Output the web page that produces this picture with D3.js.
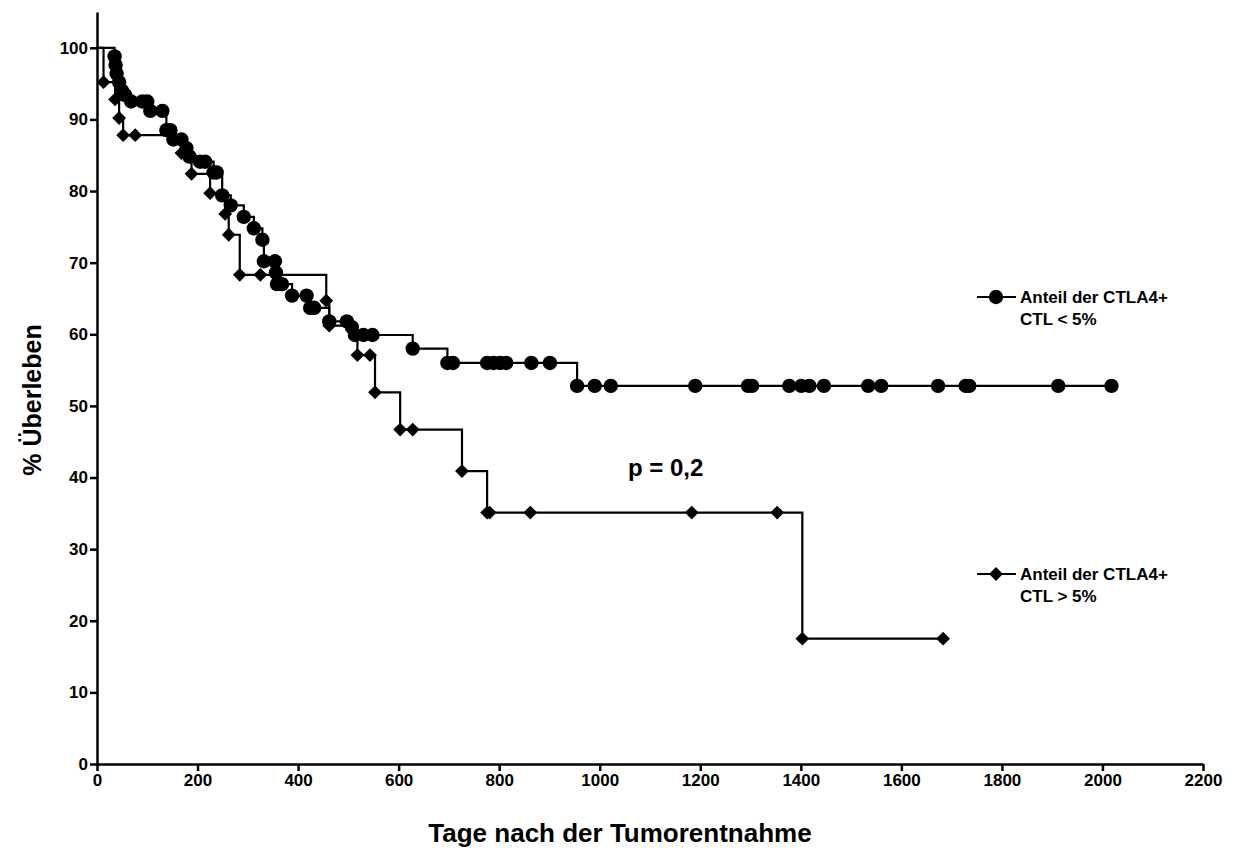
<!DOCTYPE html>
<html>
<head>
<meta charset="utf-8">
<script src="https://cdn.jsdelivr.net/npm/d3@7"></script>
<style>
  body { margin: 0; background: #fff; }
  svg { display: block; font-family: Arial, "Liberation Sans", sans-serif; }
  .tick text { font-weight: bold; font-size: 17px; fill: #000; }
</style>
</head>
<body>
<svg width="1243" height="867"></svg>
<script>
// CTLA4+ CTL < 5% (circles)
const lowDays = [35, 37, 39, 44, 50, 56, 68, 90, 100, 106, 130, 138, 146, 152, 168, 178, 184, 205, 215,
  232, 238, 249, 266, 292, 312, 329, 332, 354, 356, 358, 368, 388, 417, 424, 432, 462, 497, 507, 513,
  530, 548, 628, 697, 708, 776, 789, 802, 814, 864, 901, 955, 990, 1022, 1190, 1295, 1303, 1377,
  1401, 1417, 1446, 1534, 1560, 1673, 1728, 1735, 1912, 2018];
const lowSurv = [98.8, 97.6, 96.4, 95.2, 94.0, 93.4, 92.5, 92.5, 92.5, 91.2, 91.2, 88.5, 88.5, 87.2, 87.2, 86.0, 84.8, 84.1, 84.1,
  82.6, 82.6, 79.4, 78.0, 76.4, 74.8, 73.2, 70.2, 70.2, 68.6, 67.0, 67.0, 65.4, 65.4, 63.7, 63.7, 61.8, 61.8, 61.0, 59.9,
  59.9, 59.9, 58.0, 56.0, 56.0, 56.0, 56.0, 56.0, 56.0, 56.0, 56.0, 52.8, 52.8, 52.8, 52.8, 52.8, 52.8, 52.8,
  52.8, 52.8, 52.8, 52.8, 52.8, 52.8, 52.8, 52.8, 52.8, 52.8];

// CTLA4+ CTL > 5% (diamonds)
const highDays = [13, 36, 44, 52, 76, 168, 188, 225, 255, 262, 284, 325, 456, 462, 518, 543, 553, 603, 628,
  726, 776, 781, 862, 1183, 1353, 1403, 1683];
const highSurv = [95.2, 92.8, 90.2, 87.8, 87.8, 85.3, 82.4, 79.7, 76.8, 73.9, 68.3, 68.3, 64.7, 61.2, 57.1, 57.1, 51.9, 46.7, 46.7,
  40.9, 35.1, 35.1, 35.1, 35.1, 35.1, 17.5, 17.5];

const xTicks = [0, 200, 400, 600, 800, 1000, 1200, 1400, 1600, 1800, 2000, 2200];
const yTicks = [0, 10, 20, 30, 40, 50, 60, 70, 80, 90, 100];

const legendLabels = [["Anteil der CTLA4+", "CTL < 5%"], ["Anteil der CTLA4+", "CTL > 5%"]];

const svg = d3.select("svg");
const margin = {top: 12, right: 40, bottom: 103, left: 97};
const width = 1243 - margin.left - margin.right;
const height = 867 - margin.top - margin.bottom;

const x = d3.scaleLinear().domain([0, 2200]).range([0, width]);
const y = d3.scaleLinear().domain([0, 105]).range([height, 0]);

const g = svg.append("g").attr("transform", `translate(${margin.left},${margin.top})`);

const styleAxis = (sel) => {
    sel.select(".domain").attr("stroke", "#000").attr("stroke-width", 2.5);
    sel.selectAll(".tick line").attr("stroke", "#000").attr("stroke-width", 2.5);
};

g.append("g")
    .attr("transform", `translate(0,${height})`)
    .call(d3.axisBottom(x).tickValues(xTicks).tickFormat(d3.format("d")).tickSize(7).tickSizeOuter(0).tickPadding(3))
    .call(styleAxis);

g.append("g")
    .call(d3.axisLeft(y).tickValues(yTicks).tickFormat(d3.format("d")).tickSize(7).tickSizeOuter(0).tickPadding(2))
    .call(styleAxis);

const toPoints = (days, surv) => [[0, 100], ...days.map((d, i) => [d, surv[i]])];

const line = d3.line()
    .x(d => x(d[0]))
    .y(d => y(d[1]))
    .curve(d3.curveStepAfter);

const lowPts = toPoints(lowDays, lowSurv);
const highPts = toPoints(highDays, highSurv);

g.append("path").datum(highPts)
    .attr("fill", "none").attr("stroke", "#000").attr("stroke-width", 2.2)
    .attr("d", line);
g.append("path").datum(lowPts)
    .attr("fill", "none").attr("stroke", "#000").attr("stroke-width", 2.2)
    .attr("d", line);

const diamond = d3.symbol().type(d3.symbolSquare).size(95);

g.append("g").selectAll("path")
    .data(highPts.slice(1))
    .enter().append("path")
    .attr("d", diamond)
    .attr("transform", d => `translate(${x(d[0])},${y(d[1])}) rotate(45)`)
    .attr("fill", "#000");

g.append("g").selectAll("circle")
    .data(lowPts.slice(1))
    .enter().append("circle")
    .attr("cx", d => x(d[0]))
    .attr("cy", d => y(d[1]))
    .attr("r", 7.2)
    .attr("fill", "#000");

// legend
const legendY = [297, 574];
legendY.forEach((ly, i) => {
    const lg = svg.append("g");
    lg.append("line").attr("x1", 977).attr("x2", 1016).attr("y1", ly).attr("y2", ly)
        .attr("stroke", "#000").attr("stroke-width", 2.2);
    if (i === 0) {
        lg.append("circle").attr("cx", 996).attr("cy", ly).attr("r", 7.2).attr("fill", "#000");
    } else {
        lg.append("path").attr("d", diamond)
            .attr("transform", `translate(996,${ly}) rotate(45)`).attr("fill", "#000");
    }
    legendLabels[i].forEach((t, k) => {
        lg.append("text").attr("x", 1020).attr("y", ly + 6 + k * 22)
            .attr("font-size", 17).attr("font-weight", "bold").text(t);
    });
});

svg.append("text").attr("x", 628).attr("y", 476)
    .attr("font-size", 24).attr("font-weight", "bold").text("p = 0,2");

svg.append("text")
    .attr("transform", "translate(41,400) rotate(-90)")
    .attr("text-anchor", "middle")
    .attr("font-size", 25).attr("font-weight", "bold")
    .text("% Überleben");

svg.append("text")
    .attr("x", 620).attr("y", 842)
    .attr("text-anchor", "middle")
    .attr("font-size", 26).attr("font-weight", "bold")
    .text("Tage nach der Tumorentnahme");
</script>
</body>
</html>
